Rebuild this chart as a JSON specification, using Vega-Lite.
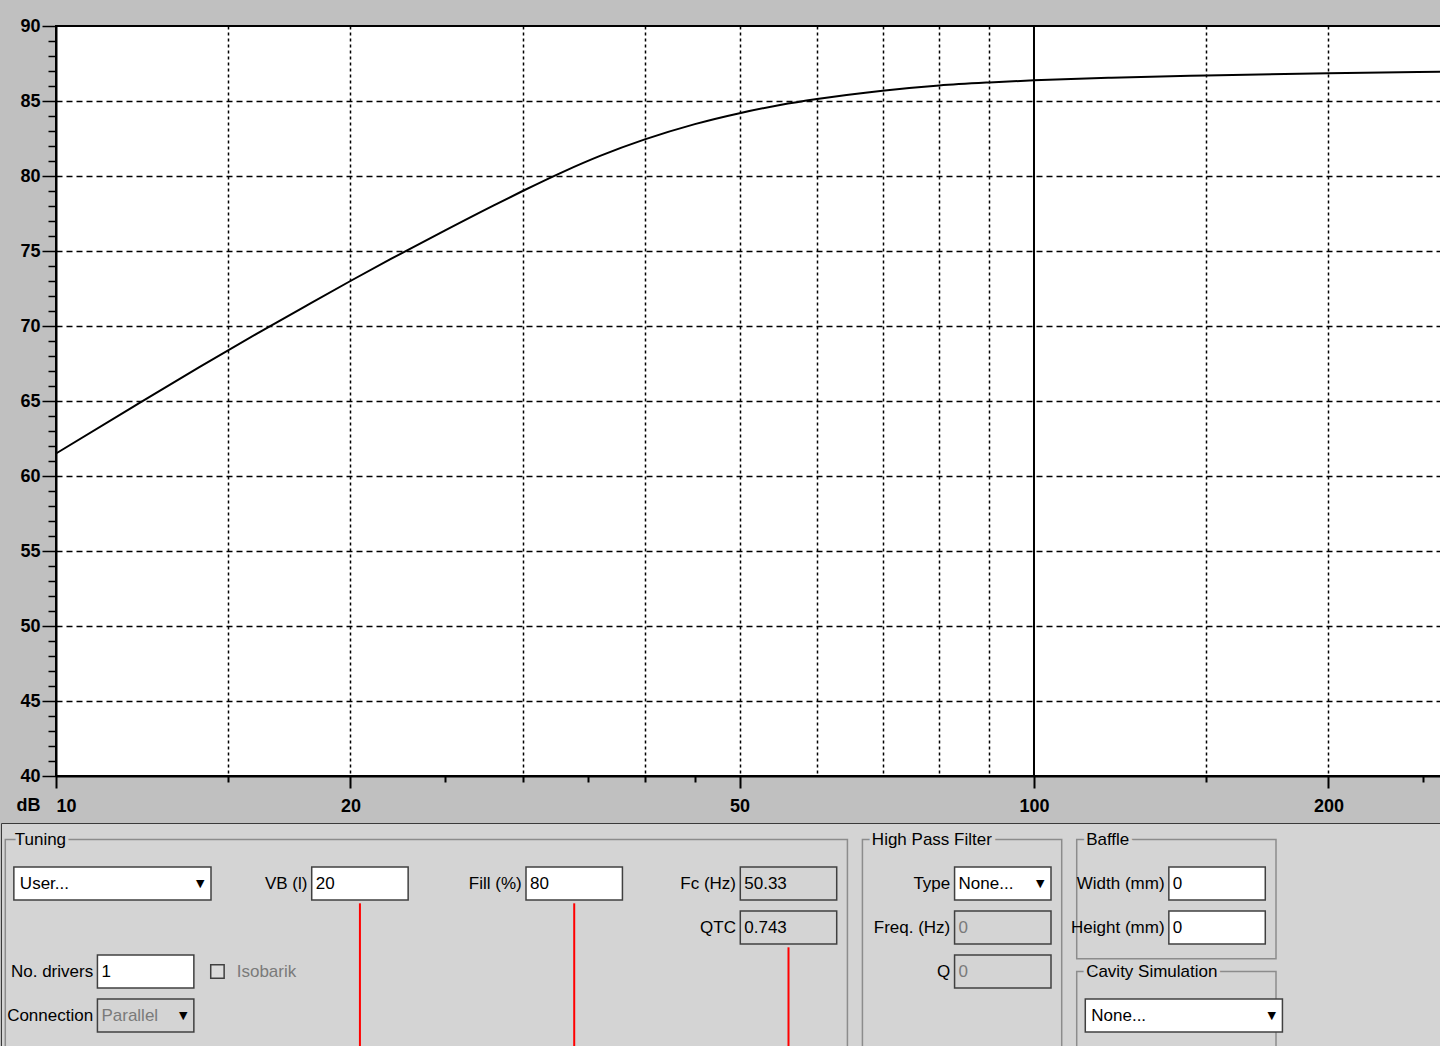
{
  "$schema": "https://vega.github.io/schema/vega-lite/v6.json",
  "background": "#c0c0c0",
  "padding": {"left": 0, "top": 16, "right": 0, "bottom": 0},
  "bounds": "flush",
  "center": true,
  "spacing": 47,
  "config": {"font": "Liberation Sans", "view": {"stroke": null}},
  "datasets": {
    "response": [
      {"f": 10, "db": 61.5}, {"f": 12, "db": 64.63}, {"f": 14, "db": 67.24}, {"f": 16, "db": 69.44},
      {"f": 18, "db": 71.33}, {"f": 20, "db": 73.0}, {"f": 22, "db": 74.47}, {"f": 25, "db": 76.38},
      {"f": 28, "db": 78.03}, {"f": 30, "db": 79.0}, {"f": 33, "db": 80.28}, {"f": 36, "db": 81.34},
      {"f": 40, "db": 82.44}, {"f": 45, "db": 83.46}, {"f": 50, "db": 84.19}, {"f": 55, "db": 84.73},
      {"f": 60, "db": 85.13}, {"f": 70, "db": 85.69}, {"f": 80, "db": 86.04}, {"f": 90, "db": 86.24},
      {"f": 100, "db": 86.38}, {"f": 120, "db": 86.55}, {"f": 150, "db": 86.7}, {"f": 200, "db": 86.85},
      {"f": 263.8, "db": 86.95}
    ],
    "cursor": [{"f": 100}],
    "controls": [
      {"col": "c1", "row": "r1", "kind": "dropdown-wide", "label": "", "value": "User...", "state": "enabled"},
      {"col": "c2", "row": "r1", "kind": "input", "label": "VB (l)", "value": "20", "state": "enabled"},
      {"col": "c3", "row": "r1", "kind": "input", "label": "Fill (%)", "value": "80", "state": "enabled"},
      {"col": "c4", "row": "r1", "kind": "input", "label": "Fc (Hz)", "value": "50.33", "state": "readonly"},
      {"col": "c4", "row": "r2", "kind": "input", "label": "QTC", "value": "0.743", "state": "readonly"},
      {"col": "c1", "row": "r3", "kind": "spin", "label": "No. drivers", "value": "1", "state": "enabled"},
      {"col": "c2", "row": "r3", "kind": "checkbox", "label": "", "value": "Isobarik", "state": "disabled"},
      {"col": "c1", "row": "r4", "kind": "dropdown", "label": "Connection", "value": "Parallel", "state": "disabled"},
      {"col": "c5", "row": "r1", "kind": "dropdown", "label": "Type", "value": "None...", "state": "enabled"},
      {"col": "c5", "row": "r2", "kind": "input", "label": "Freq. (Hz)", "value": "0", "state": "disabled"},
      {"col": "c5", "row": "r3", "kind": "input", "label": "Q", "value": "0", "state": "disabled"},
      {"col": "c6", "row": "r1", "kind": "input", "label": "Width (mm)", "value": "0", "state": "enabled"},
      {"col": "c6", "row": "r2", "kind": "input", "label": "Height (mm)", "value": "0", "state": "enabled"},
      {"col": "c6", "row": "r4", "kind": "dropdown-wide", "label": "", "value": "None...", "state": "enabled"}
    ],
    "groups": [
      {"title": "Tuning", "c_from": "c1", "c_to": "c4", "r_from": "title", "r_to": "r4"},
      {"title": "High Pass Filter", "c_from": "c5", "c_to": "c5", "r_from": "title", "r_to": "r4"},
      {"title": "Baffle", "c_from": "c6", "c_to": "c6", "r_from": "title", "r_to": "r2"},
      {"title": "Cavity Simulation", "c_from": "c6", "c_to": "c6", "r_from": "r3", "r_to": "r4"}
    ],
    "notes": [
      {"col": "c2", "row": "r1", "until": "r4"},
      {"col": "c3", "row": "r1", "until": "r4"},
      {"col": "c4", "row": "r2", "until": "r4"}
    ]
  },
  "vconcat": [
    {
      "width": 1390,
      "height": 750,
      "view": {"fill": "#ffffff", "stroke": "#000000", "strokeWidth": 2},
      "encoding": {
        "x": {
          "field": "f",
          "type": "quantitative",
          "scale": {"type": "log", "domain": [10, 263.8], "nice": false},
          "axis": {
            "title": null,
            "values": [10, 15, 20, 25, 30, 35, 40, 45, 50, 60, 70, 80, 90, 100, 150, 200, 250],
            "format": "d",
            "labelExpr": "indexof([10,20,50,100,200], datum.value) >= 0 ? datum.label : ''",
            "labelFont": "Liberation Sans",
            "labelFontSize": 18,
            "labelFontWeight": "bold",
            "labelColor": "#000000",
            "labelPadding": 9,
            "labelBaseline": "top",
            "labelFlush": false,
            "labelOverlap": false,
            "labelAlign": {"condition": {"test": "datum.value === 10", "value": "left"}, "value": "center"},
            "tickSize": {"condition": {"test": "indexof([10,20,50,100,200], datum.value) >= 0", "value": 12}, "value": 6},
            "tickOpacity": {"condition": {"test": "datum.value >= 55 && datum.value <= 95", "value": 0}, "value": 1},
            "tickWidth": 2,
            "tickColor": "#000000",
            "domainWidth": 2,
            "domainColor": "#000000",
            "grid": true,
            "gridColor": "#000000",
            "gridWidth": 1.5,
            "gridDash": [3, 3],
            "gridOpacity": {"condition": {"test": "indexof([15,20,30,40,50,60,70,80,90,150,200], datum.value) >= 0", "value": 1}, "value": 0}
          }
        }
      },
      "layer": [
        {
          "data": {"name": "response"},
          "mark": {"type": "line", "color": "#000000", "strokeWidth": 2, "interpolate": "monotone"},
          "encoding": {
            "y": {
              "field": "db",
              "type": "quantitative",
              "scale": {"domain": [40, 90], "nice": false, "zero": false},
              "axis": {
                "values": [40,40.25,40.5,40.75,41,41.25,41.5,41.75,42,42.25,42.5,42.75,43,43.25,43.5,43.75,44,44.25,44.5,44.75,45,45.25,45.5,45.75,46,46.25,46.5,46.75,47,47.25,47.5,47.75,48,48.25,48.5,48.75,49,49.25,49.5,49.75,50,50.25,50.5,50.75,51,51.25,51.5,51.75,52,52.25,52.5,52.75,53,53.25,53.5,53.75,54,54.25,54.5,54.75,55,55.25,55.5,55.75,56,56.25,56.5,56.75,57,57.25,57.5,57.75,58,58.25,58.5,58.75,59,59.25,59.5,59.75,60,60.25,60.5,60.75,61,61.25,61.5,61.75,62,62.25,62.5,62.75,63,63.25,63.5,63.75,64,64.25,64.5,64.75,65,65.25,65.5,65.75,66,66.25,66.5,66.75,67,67.25,67.5,67.75,68,68.25,68.5,68.75,69,69.25,69.5,69.75,70,70.25,70.5,70.75,71,71.25,71.5,71.75,72,72.25,72.5,72.75,73,73.25,73.5,73.75,74,74.25,74.5,74.75,75,75.25,75.5,75.75,76,76.25,76.5,76.75,77,77.25,77.5,77.75,78,78.25,78.5,78.75,79,79.25,79.5,79.75,80,80.25,80.5,80.75,81,81.25,81.5,81.75,82,82.25,82.5,82.75,83,83.25,83.5,83.75,84,84.25,84.5,84.75,85,85.25,85.5,85.75,86,86.25,86.5,86.75,87,87.25,87.5,87.75,88,88.25,88.5,88.75,89,89.25,89.5,89.75,90],
                "format": "d",
                "labelExpr": "datum.value % 5 === 0 ? datum.label : ''",
                "title": "dB",
                "titleAngle": 0,
                "titleX": -28,
                "titleY": 779,
                "titleAlign": "center",
                "titleBaseline": "middle",
                "titleFont": "Liberation Sans",
                "titleFontSize": 18,
                "titleFontWeight": "bold",
                "titleColor": "#000000",
                "labelFont": "Liberation Sans",
                "labelFontSize": 18,
                "labelFontWeight": "bold",
                "labelColor": "#000000",
                "labelPadding": 2,
                "labelOverlap": false,
                "labelFlush": false,
                "labelBaseline": "middle",
                "tickSize": {"condition": {"test": "datum.value % 5 === 0", "value": 14}, "value": 8},
                "tickColor": "#000000",
                "tickWidth": 1.5,
                "domainColor": "#000000",
                "domainWidth": 2,
                "grid": true,
                "gridColor": "#000000",
                "gridWidth": 1.5,
                "gridDash": [6, 4],
                "gridOpacity": {"condition": {"test": "datum.value % 5 === 0 && datum.value > 40 && datum.value < 90", "value": 1}, "value": 0}
              }
            }
          }
        },
        {
          "data": {"name": "cursor"},
          "mark": {"type": "rule", "color": "#000000", "strokeWidth": 2},
          "encoding": {}
        }
      ]
    },
    {
      "width": 1500,
      "height": 224,
      "view": {"fill": "#d4d4d4", "stroke": "#3a3a3a", "strokeWidth": 1},
      "layer": [
        {
          "data": {"name": "groups"},
          "mark": {"type": "rect", "filled": false, "stroke": "#8c8c8c", "strokeWidth": 1.5},
          "encoding": {
            "x": {"field": "c_from", "type": "nominal", "bandPosition": 0.02, "axis": null,
                  "scale": {"domain": ["c1", "c2", "c3", "c4", "c5", "c6", "c7"], "paddingInner": 0, "paddingOuter": 0}},
            "x2": {"field": "c_to", "bandPosition": 0.95},
            "y": {"field": "r_from", "type": "ordinal", "bandPosition": 0.5, "axis": null,
                  "scale": {"domain": ["title", "r1", "r2", "r3", "r4"], "paddingInner": 0.25, "paddingOuter": 0.17, "align": 0}},
            "y2": {"field": "r_to", "bandPosition": 1.45}
          }
        },
        {
          "data": {"name": "groups"},
          "mark": {"type": "text", "align": "left", "dx": 3, "fontSize": 17, "font": "Liberation Sans", "fill": "#d4d4d4", "stroke": "#d4d4d4", "strokeWidth": 7},
          "encoding": {
            "x": {"field": "c_from", "type": "nominal", "bandPosition": 0.05, "axis": null},
            "y": {"field": "r_from", "type": "ordinal", "axis": null},
            "text": {"field": "title"}
          }
        },
        {
          "data": {"name": "groups"},
          "mark": {"type": "text", "align": "left", "dx": 3, "fontSize": 17, "font": "Liberation Sans", "fill": "#000000"},
          "encoding": {
            "x": {"field": "c_from", "type": "nominal", "bandPosition": 0.05, "axis": null},
            "y": {"field": "r_from", "type": "ordinal", "axis": null},
            "text": {"field": "title"}
          }
        },
        {
          "data": {"name": "controls"},
          "transform": [{"filter": {"field": "kind", "oneOf": ["input", "spin", "dropdown"]}}],
          "mark": {"type": "rect", "stroke": "#404040", "strokeWidth": 1.5},
          "encoding": {
            "x": {"field": "col", "type": "nominal", "bandPosition": 0.45, "axis": null},
            "x2": {"field": "col", "bandPosition": 0.9},
            "y": {"field": "row", "type": "ordinal", "axis": null},
            "fill": {"field": "state", "type": "nominal", "legend": null,
                     "scale": {"domain": ["enabled", "readonly", "disabled"], "range": ["#ffffff", "#d4d4d4", "#d4d4d4"]}}
          }
        },
        {
          "data": {"name": "controls"},
          "transform": [{"filter": {"field": "kind", "equal": "dropdown-wide"}}],
          "mark": {"type": "rect", "stroke": "#404040", "strokeWidth": 1.5},
          "encoding": {
            "x": {"field": "col", "type": "nominal", "bandPosition": 0.06, "axis": null},
            "x2": {"field": "col", "bandPosition": 0.98},
            "y": {"field": "row", "type": "ordinal", "axis": null},
            "fill": {"field": "state", "type": "nominal", "legend": null}
          }
        },
        {
          "data": {"name": "controls"},
          "transform": [{"filter": "datum.label != ''"}],
          "mark": {"type": "text", "align": "right", "fontSize": 17, "font": "Liberation Sans", "fill": "#000000"},
          "encoding": {
            "x": {"field": "col", "type": "nominal", "bandPosition": 0.43, "axis": null},
            "y": {"field": "row", "type": "ordinal", "axis": null},
            "text": {"field": "label"}
          }
        },
        {
          "data": {"name": "controls"},
          "transform": [{"filter": {"field": "kind", "oneOf": ["input", "spin", "dropdown"]}}],
          "mark": {"type": "text", "align": "left", "dx": 4, "fontSize": 17, "font": "Liberation Sans"},
          "encoding": {
            "x": {"field": "col", "type": "nominal", "bandPosition": 0.45, "axis": null},
            "y": {"field": "row", "type": "ordinal", "axis": null},
            "text": {"field": "value"},
            "color": {"field": "state", "type": "nominal", "legend": null,
                      "scale": {"domain": ["enabled", "readonly", "disabled"], "range": ["#000000", "#000000", "#7a7a7a"]}}
          }
        },
        {
          "data": {"name": "controls"},
          "transform": [{"filter": {"field": "kind", "equal": "dropdown-wide"}}],
          "mark": {"type": "text", "align": "left", "dx": 6, "fontSize": 17, "font": "Liberation Sans"},
          "encoding": {
            "x": {"field": "col", "type": "nominal", "bandPosition": 0.06, "axis": null},
            "y": {"field": "row", "type": "ordinal", "axis": null},
            "text": {"field": "value"},
            "color": {"field": "state", "type": "nominal", "legend": null}
          }
        },
        {
          "data": {"name": "controls"},
          "transform": [{"filter": {"field": "kind", "equal": "dropdown"}}],
          "mark": {"type": "text", "text": "▼", "fontSize": 11, "font": "DejaVu Sans", "fill": "#000000"},
          "encoding": {
            "x": {"field": "col", "type": "nominal", "bandPosition": 0.85, "axis": null},
            "y": {"field": "row", "type": "ordinal", "axis": null}
          }
        },
        {
          "data": {"name": "controls"},
          "transform": [{"filter": {"field": "kind", "equal": "dropdown-wide"}}],
          "mark": {"type": "text", "text": "▼", "fontSize": 11, "font": "DejaVu Sans", "fill": "#000000"},
          "encoding": {
            "x": {"field": "col", "type": "nominal", "bandPosition": 0.93, "axis": null},
            "y": {"field": "row", "type": "ordinal", "axis": null}
          }
        },
        {
          "data": {"name": "controls"},
          "transform": [{"filter": {"field": "kind", "equal": "checkbox"}}],
          "mark": {"type": "point", "shape": "square", "size": 180, "filled": true, "fill": "#dcdcdc", "stroke": "#404040", "strokeWidth": 1.5, "opacity": 1},
          "encoding": {
            "x": {"field": "col", "type": "nominal", "bandPosition": 0.01, "axis": null},
            "y": {"field": "row", "type": "ordinal", "axis": null}
          }
        },
        {
          "data": {"name": "controls"},
          "transform": [{"filter": {"field": "kind", "equal": "checkbox"}}],
          "mark": {"type": "text", "align": "left", "fontSize": 17, "font": "Liberation Sans"},
          "encoding": {
            "x": {"field": "col", "type": "nominal", "bandPosition": 0.1, "axis": null},
            "y": {"field": "row", "type": "ordinal", "axis": null},
            "text": {"field": "value"},
            "color": {"field": "state", "type": "nominal", "legend": null}
          }
        },
        {
          "data": {"name": "notes"},
          "mark": {"type": "rule", "color": "#ff0000", "strokeWidth": 2},
          "encoding": {
            "x": {"field": "col", "type": "nominal", "bandPosition": 0.675, "axis": null},
            "y": {"field": "row", "type": "ordinal", "bandPosition": 1.1, "axis": null},
            "y2": {"field": "until", "bandPosition": 1.45}
          }
        }
      ]
    }
  ]
}
